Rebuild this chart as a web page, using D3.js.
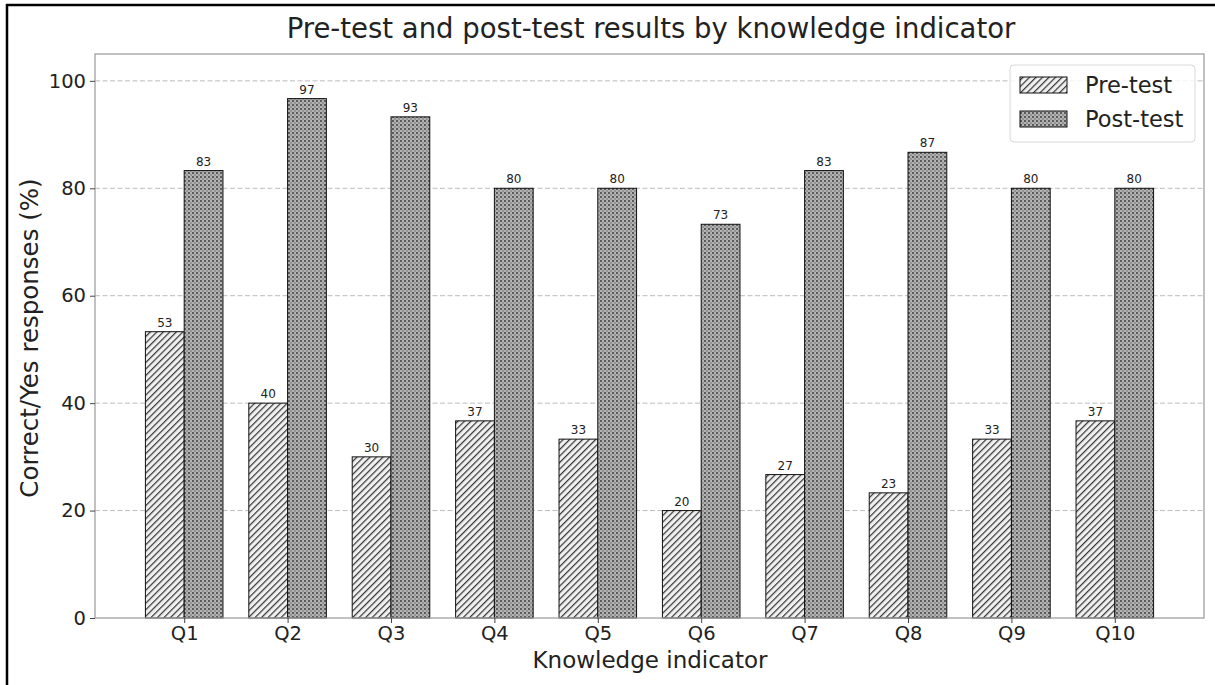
<!DOCTYPE html>
<html>
<head>
<meta charset="utf-8">
<script src="https://cdn.jsdelivr.net/npm/d3@7"></script>
<style>
  html, body { margin: 0; padding: 0; background: #fff; }
  svg { display: block; font-family: "DejaVu Sans", sans-serif; }
</style>
</head>
<body>
<svg id="chart" width="1215" height="685"></svg>
<script>
const categories = ["Q1","Q2","Q3","Q4","Q5","Q6","Q7","Q8","Q9","Q10"];
const preTest = [53.3, 40.0, 30.0, 36.7, 33.3, 20.0, 26.7, 23.3, 33.3, 36.7];
const postTest = [83.3, 96.7, 93.3, 80.0, 80.0, 73.3, 83.3, 86.7, 80.0, 80.0];
const yTicks = [0, 20, 40, 60, 80, 100];
const seriesNames = ["Pre-test", "Post-test"];
const titleText = "Pre-test and post-test results by knowledge indicator";
const xLabelText = "Knowledge indicator";
const yLabelText = "Correct/Yes responses (%)";

const svg = d3.select("#chart");
const W = 1215, H = 685;
const plot = {left: 95, right: 1204, top: 54, bottom: 618};
const barW = 0.375;

// outer frame (top & left visible)
svg.append("line").attr("x1", 6).attr("x2", W).attr("y1", 5).attr("y2", 5)
  .attr("stroke", "#000").attr("stroke-width", 2.5);
svg.append("line").attr("x1", 7).attr("x2", 7).attr("y1", 4).attr("y2", H)
  .attr("stroke", "#000").attr("stroke-width", 2.5);

const defs = svg.append("defs");
const hatch = defs.append("pattern").attr("id", "hatchPre")
  .attr("patternUnits", "userSpaceOnUse").attr("width", 4.6).attr("height", 10)
  .attr("patternTransform", "rotate(45)");
hatch.append("rect").attr("width", 4.6).attr("height", 10).attr("fill", "#f0f0f0");
hatch.append("line").attr("x1", 0.6).attr("x2", 0.6).attr("y1", 0).attr("y2", 10)
  .attr("stroke", "#333").attr("stroke-width", 1.2);

const dots = defs.append("pattern").attr("id", "dotPost")
  .attr("patternUnits", "userSpaceOnUse").attr("width", 4).attr("height", 4);
dots.append("rect").attr("width", 4).attr("height", 4).attr("fill", "#b2b2b2");
dots.append("circle").attr("cx", 1).attr("cy", 1).attr("r", 0.9).attr("fill", "#333");
dots.append("circle").attr("cx", 3).attr("cy", 3).attr("r", 0.7).attr("fill", "#606060");

const n = categories.length;
const dataMin = -barW, dataMax = (n - 1) + barW;
const margin = (dataMax - dataMin) * 0.05;
const x = d3.scaleLinear().domain([dataMin - margin, dataMax + margin]).range([plot.left, plot.right]);
const y = d3.scaleLinear().domain([0, 105]).range([plot.bottom, plot.top]);

// grid
svg.append("g").selectAll("line").data(yTicks.filter(d => d > 0)).join("line")
  .attr("x1", plot.left).attr("x2", plot.right)
  .attr("y1", d => y(d)).attr("y2", d => y(d))
  .attr("stroke", "#bcbcbc").attr("stroke-width", 1).attr("stroke-dasharray", "5,2.5");

// bars
const fills = ["url(#hatchPre)", "url(#dotPost)"];
[preTest, postTest].forEach((vals, si) => {
  const off = si === 0 ? -barW / 2 : barW / 2;
  const g = svg.append("g");
  g.selectAll("rect").data(vals).join("rect")
    .attr("x", (d, i) => x(i + off - barW / 2))
    .attr("width", (d, i) => x(i + off + barW / 2) - x(i + off - barW / 2))
    .attr("y", d => y(d))
    .attr("height", d => y(0) - y(d))
    .attr("fill", fills[si]).attr("stroke", "#111").attr("stroke-width", 1);
  g.selectAll("text").data(vals).join("text")
    .attr("x", (d, i) => x(i + off))
    .attr("y", d => y(d) - 5)
    .attr("text-anchor", "middle").attr("font-size", 12).attr("fill", "#222")
    .text(d => Math.round(d));
});

// spines
svg.append("rect").attr("x", plot.left).attr("y", plot.top)
  .attr("width", plot.right - plot.left).attr("height", plot.bottom - plot.top)
  .attr("fill", "none").attr("stroke", "#a0a0a0").attr("stroke-width", 1.3);

// y axis
const yAxis = d3.axisLeft(y).tickValues(yTicks).tickSize(5).tickPadding(4);
const yg = svg.append("g").attr("transform", `translate(${plot.left},0)`).call(yAxis);
yg.select(".domain").remove();
yg.selectAll(".tick line").attr("stroke", "#444");
yg.selectAll(".tick text").attr("font-size", 19.5).attr("fill", "#222")
  .attr("font-family", "DejaVu Sans, sans-serif");

// x axis
const xAxis = d3.axisBottom(x).tickValues(d3.range(n)).tickFormat(i => categories[i]).tickSize(5).tickPadding(3);
const xg = svg.append("g").attr("transform", `translate(0,${plot.bottom})`).call(xAxis);
xg.select(".domain").remove();
xg.selectAll(".tick line").attr("stroke", "#444");
xg.selectAll(".tick text").attr("font-size", 19.5).attr("fill", "#222")
  .attr("font-family", "DejaVu Sans, sans-serif");

// title & labels
svg.append("text").attr("x", 651).attr("y", 38)
  .attr("text-anchor", "middle").attr("font-size", 27.5).attr("fill", "#222").text(titleText);
svg.append("text").attr("x", 650).attr("y", 668)
  .attr("text-anchor", "middle").attr("font-size", 23).attr("fill", "#222").text(xLabelText);
svg.append("text").attr("transform", `translate(38,338) rotate(-90)`)
  .attr("text-anchor", "middle").attr("font-size", 24.5).attr("fill", "#222").text(yLabelText);

// legend
const lg = svg.append("g");
lg.append("rect").attr("x", 1010).attr("y", 65).attr("width", 185).attr("height", 77)
  .attr("rx", 4).attr("fill", "#fff").attr("fill-opacity", 0.8)
  .attr("stroke", "#d8d8d8").attr("stroke-width", 1);
seriesNames.forEach((name, i) => {
  const yy = 77 + i * 34;
  lg.append("rect").attr("x", 1020).attr("y", yy).attr("width", 47).attr("height", 16)
    .attr("fill", fills[i]).attr("stroke", "#111").attr("stroke-width", 1);
  lg.append("text").attr("x", 1085).attr("y", yy + 16).attr("font-size", 22.5)
    .attr("fill", "#222").text(name);
});
</script>
</body>
</html>
